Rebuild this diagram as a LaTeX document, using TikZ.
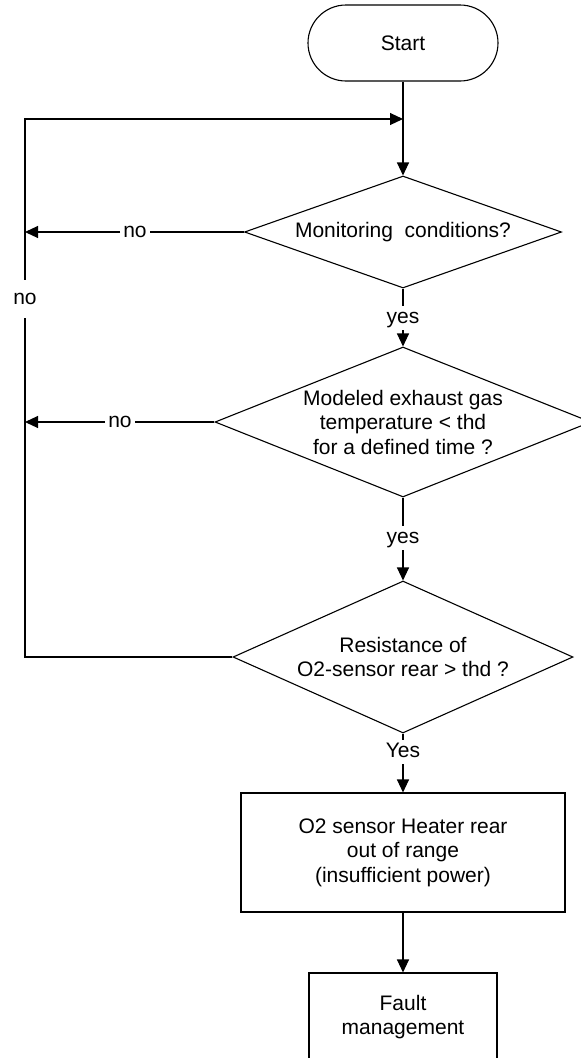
\documentclass[tikz,border=0pt]{standalone}
\usepackage{fontspec}
\setmainfont{Liberation Sans}
\usetikzlibrary{shapes.geometric,arrows.meta}
\begin{document}
\begin{tikzpicture}[x=1pt,y=-1pt,
  every node/.style={font=\fontsize{21}{24.5}\selectfont, text=black},
  flow/.style={line width=1.1pt, draw=black},
  arr/.style={flow, -{Triangle[length=13pt,width=12pt]}},
  terminal/.style={draw, line width=1.1pt, rounded corners=38pt,
    minimum width=190pt, minimum height=76pt},
  decision/.style={draw, line width=1.1pt, diamond, inner sep=0pt, align=center},
  process/.style={draw, line width=1.1pt, rectangle, align=center},
  lbl/.style={fill=white, inner xsep=3pt, inner ysep=2pt, text height=15pt, text depth=5pt}]
\useasboundingbox (0,0) rectangle (581,1058);
\clip (0,0) rectangle (581,1058);

% main column
\node[terminal] (start) at (403,43) {Start};
\node[decision, aspect=2.83, minimum width=317pt, minimum height=112pt] (d1) at (403,232)
  {Monitoring\ \ conditions?};
\node[decision, aspect=2.5, minimum width=376pt, minimum height=150pt] (d2) at (403,422)
  {Modeled exhaust gas\\temperature < thd\\for a defined time ?};
\node[decision, aspect=2.24, minimum width=340pt, minimum height=152pt] (d3) at (403,657)
  {Resistance of\\O2-sensor rear > thd ?};
\node[process, minimum width=324pt, minimum height=119pt] (heat) at (403,852.5)
  {O2 sensor Heater rear\\out of range\\(insufficient power)};
\node[process, minimum width=188pt, minimum height=88pt] (fault) at (403,1017)
  {Fault\\management};

% branch labels
\node[lbl] (yes1) at (403,318) {yes};
\node[lbl] (yes2) at (403,538) {yes};
\node[lbl] (yes3) at (403,752) {Yes};
\node[lbl] (no1) at (135,232) {no};
\node[lbl] (no2) at (120,422) {no};
\node[lbl, minimum height=38pt] (no3) at (25,299) {no};

% return loop
\coordinate (lx) at (25,0);
\coordinate (join) at (403,119);

\draw[arr] (start) -- (d1);
\draw[flow] (d1) -- (yes1);
\draw[arr] (yes1) -- (d2);
\draw[flow] (d2) -- (yes2);
\draw[arr] (yes2) -- (d3);
\draw[flow] (d3) -- (yes3);
\draw[arr] (yes3) -- (heat);
\draw[arr] (heat) -- (fault);

\draw[flow] (d1.west) -- (no1);
\draw[arr] (no1) -- (no1 -| lx);
\draw[flow] (d2.west) -- (no2);
\draw[arr] (no2) -- (no2 -| lx);

\draw[flow] (d3.west) -- (d3.west -| lx) -- (no3);
\draw[arr] (no3) |- (join);
\end{tikzpicture}
\end{document}
